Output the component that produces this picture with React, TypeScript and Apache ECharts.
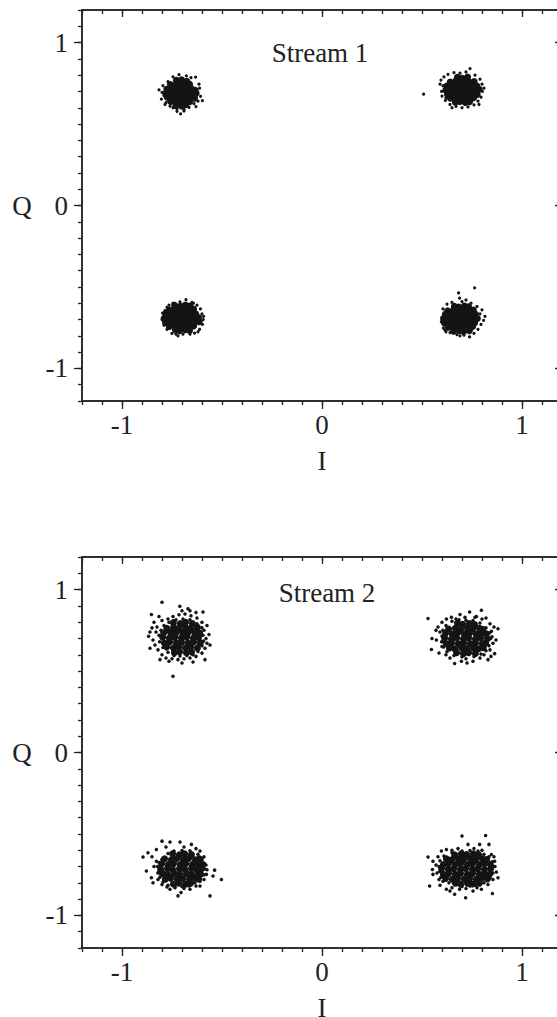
import React, { useEffect, useRef } from "react";
import * as echarts from "echarts";

// ---------- data ----------
const majorTicks = [-1, 0, 1];
const titles = ["Stream 1", "Stream 2"];
const xName = "I";
const yName = "Q";

// Stream 1 — dense cores and scattered dots of each constellation point
const s1TopLeftCore = [
  [-0.728,0.768],[-0.702,0.772],[-0.676,0.763],
  [-0.758,0.742],[-0.733,0.738],[-0.711,0.745],[-0.684,0.737],[-0.662,0.744],
  [-0.776,0.713],[-0.752,0.718],[-0.727,0.711],[-0.699,0.716],[-0.676,0.709],[-0.652,0.717],[-0.634,0.707],
  [-0.781,0.688],[-0.757,0.692],[-0.731,0.686],[-0.706,0.691],[-0.679,0.685],[-0.656,0.693],[-0.629,0.689],
  [-0.774,0.664],[-0.748,0.668],[-0.726,0.661],[-0.703,0.667],[-0.674,0.662],[-0.651,0.668],[-0.637,0.659],
  [-0.757,0.638],[-0.737,0.643],[-0.709,0.636],[-0.686,0.642],[-0.662,0.637],
  [-0.731,0.614],[-0.703,0.611],[-0.682,0.618],
];
const s1TopLeftEdge = [
  [-0.815,0.71],[-0.803,0.653],[-0.707,0.563],[-0.598,0.644],[-0.632,0.788],[-0.678,0.796],[-0.76,0.61],
  [-0.63,0.607],[-0.795,0.735],[-0.79,0.675],[-0.745,0.79],[-0.715,0.803],[-0.655,0.785],[-0.612,0.72],
  [-0.607,0.67],[-0.615,0.745],[-0.64,0.625],[-0.665,0.603],[-0.69,0.59],[-0.725,0.592],[-0.745,0.6],
  [-0.78,0.632],[-0.8,0.695],[-0.77,0.76],[-0.69,0.58],[-0.62,0.64],[-0.785,0.62],[-0.725,0.578],
];
const s1TopRightCore = [
  [0.677,0.787],[0.701,0.781],[0.728,0.789],
  [0.641,0.758],[0.667,0.763],[0.688,0.757],[0.716,0.762],[0.739,0.756],[0.761,0.761],
  [0.624,0.733],[0.652,0.738],[0.673,0.732],[0.702,0.737],[0.724,0.731],[0.751,0.738],[0.774,0.733],
  [0.619,0.708],[0.646,0.712],[0.671,0.707],[0.694,0.713],[0.722,0.708],[0.744,0.711],[0.769,0.706],[0.786,0.713],
  [0.627,0.683],[0.648,0.688],[0.677,0.682],[0.699,0.687],[0.726,0.684],[0.749,0.689],[0.776,0.682],
  [0.642,0.658],[0.663,0.663],[0.691,0.657],[0.714,0.662],[0.741,0.656],[0.758,0.661],
  [0.667,0.634],[0.689,0.638],[0.716,0.632],[0.738,0.637],
];
const s1TopRightEdge = [
  [0.508,0.683],[0.74,0.84],[0.595,0.77],[0.61,0.79],[0.63,0.805],[0.66,0.815],[0.69,0.812],[0.72,0.82],
  [0.765,0.8],[0.79,0.775],[0.8,0.745],[0.802,0.7],[0.795,0.665],[0.78,0.64],[0.76,0.618],[0.73,0.605],
  [0.7,0.6],[0.67,0.608],[0.64,0.62],[0.617,0.645],[0.6,0.672],[0.598,0.7],[0.605,0.735],[0.62,0.66],
  [0.785,0.62],[0.81,0.72],[0.65,0.6],[0.59,0.745],
];
const s1BottomLeftCore = [
  [-0.737,-0.613],[-0.708,-0.618],[-0.683,-0.611],[-0.661,-0.617],
  [-0.763,-0.642],[-0.742,-0.637],[-0.713,-0.643],[-0.692,-0.638],[-0.663,-0.641],[-0.642,-0.636],
  [-0.781,-0.663],[-0.753,-0.668],[-0.732,-0.662],[-0.703,-0.667],[-0.682,-0.663],[-0.654,-0.669],[-0.632,-0.664],
  [-0.789,-0.692],[-0.767,-0.687],[-0.738,-0.693],[-0.717,-0.688],[-0.688,-0.691],[-0.667,-0.686],[-0.638,-0.692],[-0.617,-0.688],
  [-0.783,-0.716],[-0.761,-0.712],[-0.733,-0.717],[-0.712,-0.713],[-0.684,-0.718],[-0.661,-0.712],[-0.637,-0.716],[-0.614,-0.713],
  [-0.764,-0.742],[-0.741,-0.737],[-0.713,-0.743],[-0.692,-0.738],[-0.664,-0.742],[-0.642,-0.739],
  [-0.733,-0.763],[-0.712,-0.768],[-0.684,-0.762],[-0.662,-0.767],
];
const s1BottomLeftEdge = [
  [-0.68,-0.578],[-0.72,-0.8],[-0.637,-0.783],[-0.797,-0.66],[-0.8,-0.7],[-0.79,-0.735],[-0.775,-0.76],
  [-0.75,-0.785],[-0.695,-0.79],[-0.66,-0.79],[-0.612,-0.76],[-0.598,-0.73],[-0.594,-0.7],[-0.6,-0.665],
  [-0.608,-0.635],[-0.625,-0.612],[-0.65,-0.595],[-0.71,-0.592],[-0.745,-0.6],[-0.775,-0.625],[-0.785,-0.645],
  [-0.592,-0.68],[-0.62,-0.775],[-0.73,-0.79],[-0.765,-0.612],[-0.643,-0.6],
];
const s1BottomRightCore = [
  [0.662,-0.618],[0.683,-0.623],[0.712,-0.617],[0.733,-0.622],
  [0.628,-0.647],[0.657,-0.642],[0.678,-0.648],[0.707,-0.643],[0.728,-0.647],[0.757,-0.642],
  [0.617,-0.668],[0.638,-0.673],[0.667,-0.667],[0.688,-0.672],[0.717,-0.668],[0.738,-0.673],[0.767,-0.668],
  [0.608,-0.697],[0.637,-0.692],[0.658,-0.698],[0.687,-0.693],[0.708,-0.697],[0.737,-0.692],[0.758,-0.698],[0.777,-0.694],
  [0.613,-0.722],[0.642,-0.717],[0.663,-0.723],[0.692,-0.718],[0.713,-0.722],[0.742,-0.717],[0.763,-0.721],
  [0.632,-0.747],[0.653,-0.742],[0.682,-0.748],[0.703,-0.743],[0.732,-0.747],[0.753,-0.742],
  [0.658,-0.772],[0.687,-0.767],[0.708,-0.773],[0.737,-0.768],
];
const s1BottomRightEdge = [
  [0.763,-0.505],[0.683,-0.537],[0.688,-0.568],[0.72,-0.58],[0.613,-0.66],[0.607,-0.752],[0.738,-0.807],
  [0.808,-0.705],[0.8,-0.64],[0.65,-0.595],[0.7,-0.59],[0.745,-0.6],[0.775,-0.62],[0.79,-0.665],
  [0.795,-0.73],[0.78,-0.76],[0.76,-0.785],[0.71,-0.795],[0.675,-0.792],[0.64,-0.78],[0.615,-0.765],
  [0.597,-0.715],[0.6,-0.685],[0.605,-0.635],[0.625,-0.605],[0.815,-0.68],[0.69,-0.8],[0.62,-0.775],
];

// Stream 2 — wider clusters
const s2TopLeftCore = [
  [-0.743,0.797],[-0.708,0.791],[-0.682,0.799],[-0.648,0.792],
  [-0.776,0.762],[-0.742,0.768],[-0.717,0.761],[-0.683,0.767],[-0.657,0.762],[-0.623,0.768],
  [-0.792,0.733],[-0.758,0.738],[-0.732,0.731],[-0.698,0.737],[-0.672,0.732],[-0.638,0.738],[-0.612,0.733],
  [-0.797,0.707],[-0.763,0.702],[-0.737,0.708],[-0.703,0.703],[-0.677,0.707],[-0.643,0.702],[-0.617,0.706],
  [-0.788,0.672],[-0.762,0.678],[-0.728,0.673],[-0.702,0.677],[-0.668,0.672],[-0.642,0.678],[-0.608,0.673],
  [-0.777,0.647],[-0.743,0.642],[-0.717,0.648],[-0.683,0.643],[-0.657,0.647],[-0.623,0.642],
  [-0.738,0.613],[-0.712,0.618],[-0.678,0.612],[-0.652,0.617],
];
const s2TopLeftEdge = [
  [-0.8,0.922],[-0.745,0.468],[-0.853,0.847],[-0.595,0.863],[-0.565,0.724],[-0.867,0.714],
  [-0.84,0.8],[-0.825,0.77],[-0.83,0.74],[-0.845,0.69],[-0.835,0.66],[-0.82,0.63],[-0.86,0.64],[-0.85,0.765],
  [-0.8,0.6],[-0.78,0.58],[-0.75,0.575],[-0.72,0.57],[-0.69,0.575],[-0.66,0.58],[-0.63,0.59],[-0.6,0.61],
  [-0.585,0.64],[-0.575,0.67],[-0.58,0.7],[-0.59,0.75],[-0.575,0.78],[-0.6,0.8],[-0.625,0.825],[-0.655,0.84],
  [-0.685,0.85],[-0.715,0.845],[-0.745,0.835],[-0.77,0.82],[-0.8,0.81],[-0.815,0.835],[-0.66,0.87],[-0.7,0.87],
  [-0.63,0.86],[-0.56,0.66],[-0.585,0.57],[-0.81,0.57],[-0.7,0.55],[-0.645,0.555],[-0.86,0.74],[-0.765,0.56],
  [-0.711,0.898],[-0.67,0.882],
  [-0.815,0.72],[-0.812,0.68],[-0.805,0.75],[-0.79,0.78],[-0.765,0.8],[-0.73,0.815],[-0.695,0.82],
  [-0.66,0.815],[-0.625,0.79],[-0.6,0.765],[-0.595,0.72],[-0.592,0.685],[-0.6,0.655],[-0.62,0.62],
  [-0.645,0.6],[-0.675,0.595],[-0.71,0.593],[-0.74,0.596],[-0.77,0.615],[-0.795,0.645],
];
const s2TopRightCore = [
  [0.677,0.793],[0.703,0.787],[0.737,0.792],[0.763,0.786],
  [0.633,0.758],[0.667,0.763],[0.693,0.757],[0.727,0.762],[0.753,0.758],[0.787,0.763],[0.803,0.757],
  [0.618,0.732],[0.652,0.727],[0.678,0.733],[0.712,0.728],[0.738,0.732],[0.772,0.727],[0.798,0.733],[0.822,0.728],
  [0.613,0.702],[0.647,0.697],[0.673,0.703],[0.707,0.698],[0.733,0.702],[0.767,0.697],[0.793,0.703],[0.827,0.698],
  [0.622,0.668],[0.648,0.673],[0.682,0.667],[0.708,0.672],[0.742,0.668],[0.768,0.673],[0.802,0.667],[0.818,0.672],
  [0.637,0.642],[0.663,0.637],[0.697,0.643],[0.723,0.638],[0.757,0.642],[0.783,0.637],[0.807,0.643],
  [0.673,0.612],[0.707,0.607],[0.733,0.613],[0.767,0.608],
];
const s2TopRightEdge = [
  [0.53,0.822],[0.88,0.76],[0.797,0.873],[0.55,0.7],[0.547,0.632],[0.663,0.546],[0.863,0.607],
  [0.738,0.863],[0.772,0.835],[0.69,0.847],[0.82,0.826],[0.847,0.744],[0.855,0.67],[0.83,0.57],[0.755,0.56],
  [0.697,0.56],[0.585,0.611],[0.572,0.69],[0.58,0.77],[0.622,0.82],[0.647,0.83],[0.6,0.8],[0.59,0.74],
  [0.6,0.65],[0.62,0.6],[0.64,0.58],[0.72,0.575],[0.79,0.58],[0.81,0.6],[0.84,0.63],[0.85,0.71],[0.84,0.79],
  [0.8,0.82],[0.765,0.83],[0.715,0.83],[0.67,0.82],[0.605,0.68],[0.725,0.55],[0.87,0.69],[0.86,0.77],
  [0.57,0.75],[0.845,0.59],
  [0.6,0.715],[0.598,0.68],[0.605,0.75],[0.62,0.78],[0.65,0.805],[0.685,0.815],[0.72,0.812],[0.755,0.81],
  [0.79,0.795],[0.82,0.765],[0.838,0.735],[0.843,0.7],[0.835,0.655],[0.82,0.625],[0.795,0.605],[0.76,0.59],
  [0.7,0.588],[0.66,0.595],[0.625,0.62],[0.608,0.648],
];
const s2BottomLeftCore = [
  [-0.747,-0.622],[-0.713,-0.628],[-0.687,-0.621],[-0.653,-0.627],
  [-0.787,-0.652],[-0.753,-0.658],[-0.727,-0.652],[-0.693,-0.657],[-0.667,-0.651],[-0.633,-0.658],[-0.613,-0.653],
  [-0.802,-0.683],[-0.768,-0.688],[-0.742,-0.682],[-0.708,-0.687],[-0.682,-0.683],[-0.648,-0.688],[-0.622,-0.682],[-0.598,-0.687],
  [-0.807,-0.717],[-0.773,-0.712],[-0.747,-0.718],[-0.713,-0.713],[-0.687,-0.717],[-0.653,-0.712],[-0.627,-0.718],[-0.602,-0.713],
  [-0.798,-0.742],[-0.772,-0.748],[-0.738,-0.743],[-0.712,-0.747],[-0.678,-0.742],[-0.652,-0.748],[-0.618,-0.743],[-0.607,-0.747],
  [-0.783,-0.778],[-0.757,-0.772],[-0.723,-0.777],[-0.697,-0.773],[-0.663,-0.778],[-0.637,-0.772],[-0.617,-0.777],
  [-0.743,-0.807],[-0.717,-0.802],[-0.683,-0.808],[-0.657,-0.803],
];
const s2BottomLeftEdge = [
  [-0.895,-0.642],[-0.503,-0.78],[-0.56,-0.88],[-0.8,-0.544],[-0.72,-0.88],[-0.537,-0.722],
  [-0.87,-0.615],[-0.878,-0.728],[-0.853,-0.769],[-0.828,-0.595],[-0.76,-0.55],[-0.71,-0.55],[-0.653,-0.564],
  [-0.61,-0.605],[-0.578,-0.748],[-0.545,-0.758],[-0.61,-0.82],[-0.66,-0.84],[-0.76,-0.84],[-0.8,-0.81],
  [-0.845,-0.8],[-0.828,-0.667],[-0.84,-0.7],[-0.82,-0.74],[-0.82,-0.78],[-0.78,-0.58],[-0.69,-0.58],
  [-0.63,-0.59],[-0.59,-0.64],[-0.58,-0.69],[-0.59,-0.78],[-0.63,-0.82],[-0.69,-0.835],[-0.735,-0.83],
  [-0.775,-0.825],[-0.85,-0.64],[-0.575,-0.72],[-0.705,-0.86],[-0.6,-0.66],
  [-0.822,-0.7],[-0.818,-0.735],[-0.81,-0.765],[-0.795,-0.795],[-0.77,-0.815],[-0.735,-0.825],[-0.7,-0.823],
  [-0.665,-0.82],[-0.635,-0.8],[-0.61,-0.79],[-0.59,-0.75],[-0.585,-0.715],[-0.588,-0.68],[-0.6,-0.65],
  [-0.62,-0.625],[-0.66,-0.603],[-0.7,-0.602],[-0.74,-0.605],[-0.77,-0.62],[-0.8,-0.655],[-0.815,-0.675],
];
const s2BottomRightCore = [
  [0.663,-0.628],[0.697,-0.622],[0.723,-0.627],[0.757,-0.621],[0.783,-0.628],
  [0.622,-0.652],[0.648,-0.658],[0.682,-0.653],[0.708,-0.657],[0.742,-0.652],[0.768,-0.658],[0.802,-0.652],[0.823,-0.657],
  [0.607,-0.688],[0.633,-0.682],[0.667,-0.687],[0.693,-0.683],[0.727,-0.688],[0.753,-0.682],[0.787,-0.687],[0.813,-0.683],[0.842,-0.688],
  [0.598,-0.712],[0.632,-0.717],[0.658,-0.713],[0.692,-0.718],[0.718,-0.712],[0.752,-0.717],[0.778,-0.713],[0.812,-0.718],[0.843,-0.713],
  [0.607,-0.748],[0.633,-0.742],[0.667,-0.747],[0.693,-0.743],[0.727,-0.748],[0.753,-0.742],[0.787,-0.747],[0.813,-0.743],[0.838,-0.748],
  [0.618,-0.773],[0.652,-0.778],[0.678,-0.772],[0.712,-0.777],[0.738,-0.773],[0.772,-0.778],[0.798,-0.772],[0.827,-0.777],
  [0.667,-0.803],[0.693,-0.808],[0.727,-0.802],[0.753,-0.807],[0.787,-0.803],
];
const s2BottomRightEdge = [
  [0.7,-0.513],[0.818,-0.509],[0.53,-0.642],[0.88,-0.769],[0.538,-0.82],[0.852,-0.865],[0.718,-0.891],[0.663,-0.87],
  [0.73,-0.564],[0.788,-0.564],[0.835,-0.564],[0.622,-0.595],[0.597,-0.605],[0.552,-0.718],[0.555,-0.748],
  [0.585,-0.78],[0.622,-0.84],[0.688,-0.84],[0.755,-0.85],[0.797,-0.84],[0.872,-0.734],[0.863,-0.667],
  [0.847,-0.626],[0.555,-0.667],[0.58,-0.64],[0.57,-0.69],[0.59,-0.815],[0.65,-0.83],[0.72,-0.835],
  [0.775,-0.83],[0.83,-0.81],[0.855,-0.78],[0.865,-0.7],[0.8,-0.6],[0.76,-0.59],[0.68,-0.59],[0.65,-0.6],
  [0.575,-0.74],[0.64,-0.85],[0.86,-0.64],
  [0.585,-0.7],[0.588,-0.73],[0.595,-0.765],[0.605,-0.79],[0.635,-0.8],[0.7,-0.822],[0.74,-0.82],
  [0.77,-0.815],[0.81,-0.8],[0.84,-0.77],[0.855,-0.74],[0.858,-0.7],[0.85,-0.67],[0.835,-0.64],
  [0.81,-0.625],[0.78,-0.605],[0.74,-0.602],[0.7,-0.605],[0.65,-0.615],[0.61,-0.635],[0.59,-0.665],
];

// ---------- styling ----------
const FONT = "'Liberation Serif', 'Times New Roman', serif";
const INK = "#222222";
const DOT = "#141414";

const gridTops = [10, 557];
const gridH = 391;

function axisSet(dim: "x" | "y", gridIndex: number) {
  const base: any = {
    type: "value",
    gridIndex,
    min: -1.2,
    max: 1.2,
    interval: 0.1,
    splitLine: { show: false },
    axisLine: { show: true, onZero: false, lineStyle: { color: INK, width: 1.5 } },
    axisLabel: { show: false },
  };
  const tickStyle = { color: INK, width: 1.3 };
  const near = dim === "x" ? "bottom" : "left";
  const far = dim === "x" ? "top" : "right";
  const labelStyle = {
    show: true,
    customValues: majorTicks,
    fontFamily: FONT,
    fontSize: 27,
    color: INK,
    margin: dim === "x" ? 10 : 14,
  };
  const nameStyle = {
    fontFamily: FONT,
    fontSize: 27,
    color: INK,
    align: "center",
    verticalAlign: "middle",
  };
  return [
    { ...base, position: near, axisTick: { show: true, length: 4, lineStyle: tickStyle } },
    {
      ...base,
      position: near,
      axisTick: { show: true, length: 8, customValues: majorTicks, lineStyle: tickStyle },
      axisLabel: labelStyle,
      name: dim === "x" ? xName : yName,
      nameLocation: "middle",
      nameGap: 60,
      nameRotate: 0,
      nameTextStyle: nameStyle,
    },
    { ...base, position: far, axisTick: { show: true, inside: true, length: 4, lineStyle: tickStyle } },
    {
      ...base,
      position: far,
      axisTick: { show: true, inside: true, length: 7, customValues: majorTicks, lineStyle: tickStyle },
    },
  ];
}

function clusterSeries(gridIndex: number, core: number[][], edge: number[][], coreSize: number, edgeSize: number) {
  const idx = gridIndex * 4 + 1;
  return [
    {
      type: "scatter",
      xAxisIndex: idx,
      yAxisIndex: idx,
      data: core,
      symbol: "circle",
      symbolSize: coreSize,
      itemStyle: { color: DOT, opacity: 1 },
      silent: true,
    },
    {
      type: "scatter",
      xAxisIndex: idx,
      yAxisIndex: idx,
      data: edge,
      symbol: "circle",
      symbolSize: edgeSize,
      itemStyle: { color: DOT, opacity: 1 },
      silent: true,
    },
  ];
}

const stream1Core = [...s1TopLeftCore, ...s1TopRightCore, ...s1BottomLeftCore, ...s1BottomRightCore];
const stream1Edge = [...s1TopLeftEdge, ...s1TopRightEdge, ...s1BottomLeftEdge, ...s1BottomRightEdge];
const stream2Core = [...s2TopLeftCore, ...s2TopRightCore, ...s2BottomLeftCore, ...s2BottomRightCore];
const stream2Edge = [...s2TopLeftEdge, ...s2TopRightEdge, ...s2BottomLeftEdge, ...s2BottomRightEdge];

const option: any = {
  animation: false,
  backgroundColor: "#ffffff",
  grid: gridTops.map((top) => ({
    left: 82,
    top,
    width: 480,
    height: gridH,
    containLabel: false,
    outerBoundsMode: "none",
  })),
  xAxis: [...axisSet("x", 0), ...axisSet("x", 1)],
  yAxis: [...axisSet("y", 0), ...axisSet("y", 1)],
  series: [
    ...clusterSeries(0, stream1Core, stream1Edge, 7, 3.2),
    ...clusterSeries(1, stream2Core, stream2Edge, 7, 3.5),
  ],
  graphic: [
    {
      type: "text",
      x: 320,
      y: 53,
      style: { text: titles[0], fontFamily: FONT, fontSize: 27, fill: INK, textAlign: "center", textVerticalAlign: "middle" },
    },
    {
      type: "text",
      x: 327,
      y: 593,
      style: { text: titles[1], fontFamily: FONT, fontSize: 27, fill: INK, textAlign: "center", textVerticalAlign: "middle" },
    },
  ],
};

export default function App() {
  const ref = useRef<HTMLDivElement>(null);
  useEffect(() => {
    document.body.style.margin = "0";
    const chart = echarts.init(ref.current as HTMLDivElement, null, { renderer: "svg" });
    chart.setOption(option);
    return () => chart.dispose();
  }, []);
  return <div ref={ref} style={{ width: 557, height: 1017, overflow: "hidden" }} />;
}
